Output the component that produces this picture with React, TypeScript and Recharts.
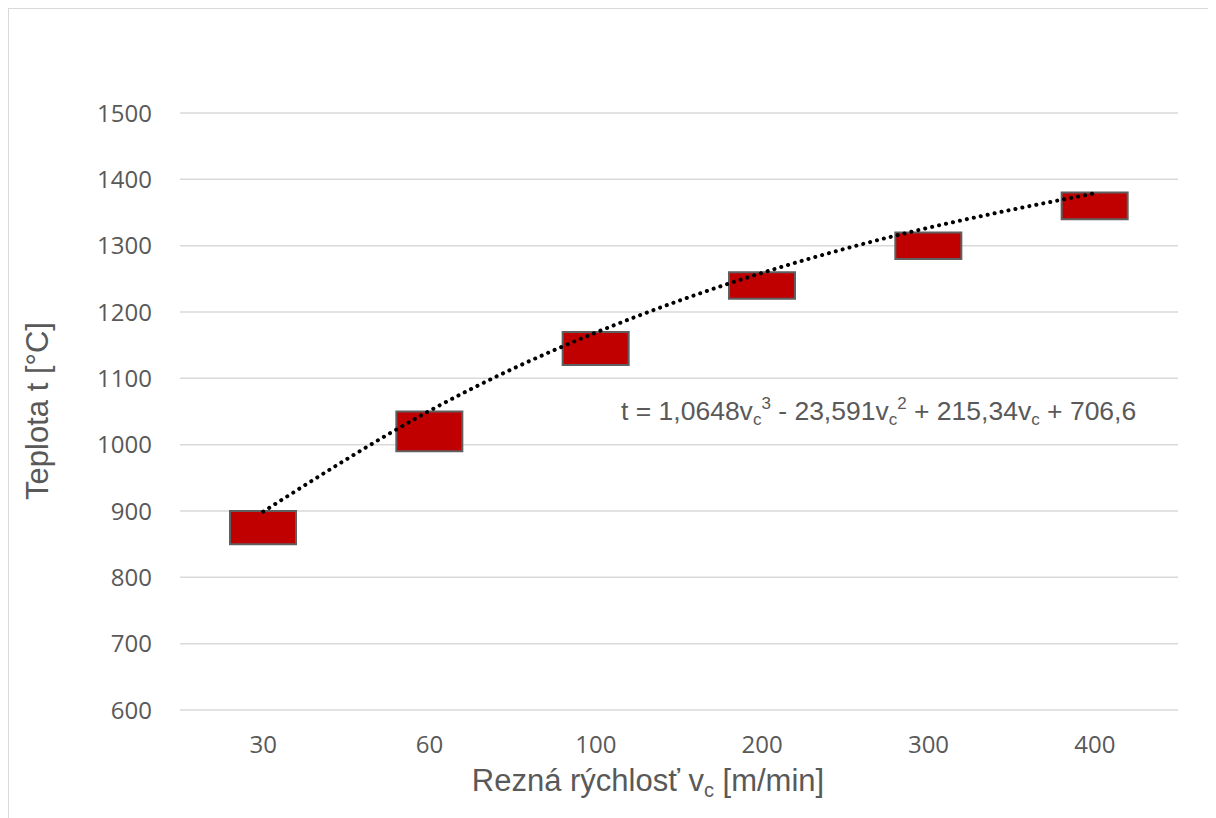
import React from "react";
import {
  ComposedChart, Bar, Line, XAxis, YAxis, CartesianGrid, Customized,
} from "recharts";

const categories = ["30", "60", "100", "200", "300", "400"];
const lowValues = [850, 990, 1120, 1220, 1280, 1340];
const highValues = [900, 1050, 1170, 1260, 1320, 1380];
const trendValues = [899, 1051, 1169, 1259, 1327, 1379];
const yTicks = [600, 700, 800, 900, 1000, 1100, 1200, 1300, 1400, 1500];

const data = categories.map((c, i) => ({
  vc: c,
  range: [lowValues[i], highValues[i]],
  trend: trendValues[i],
}));

const textGray = "#595959";
const titleFont = "'Liberation Sans', Arial, sans-serif";
const tickFont = "'Open Sans', 'Noto Sans', sans-serif";

function Texts() {
  return (
    <g fill={textGray} fontFamily={titleFont}>
      <text x={28} y={402} fontSize={31} textAnchor="middle" dominantBaseline="central"
        transform="rotate(-90, 28, 402)">
        Teplota t [°C]
      </text>
      <text x={639} y={782} fontSize={31} textAnchor="middle">
        Rezná rýchlosť v<tspan fontSize={20} dy={6}>c</tspan>
        <tspan dy={-6}> [m/min]</tspan>
      </text>
      <text x={612} y={411} fontSize={26.5}>
        t = 1,0648v<tspan fontSize={17} dy={5}>c</tspan>
        <tspan fontSize={17} dy={-16}>3</tspan>
        <tspan dy={11}> - 23,591v</tspan>
        <tspan fontSize={17} dy={5}>c</tspan>
        <tspan fontSize={17} dy={-16}>2</tspan>
        <tspan dy={11}> + 215,34v</tspan>
        <tspan fontSize={17} dy={5}>c</tspan>
        <tspan dy={-5}> + 706,6</tspan>
      </text>
    </g>
  );
}

export default function App() {
  return (
    <div style={{
      width: 1208, height: 810, boxSizing: "border-box",
      borderLeft: "1px solid #d9d9d9", borderTop: "1px solid #d9d9d9",
      background: "#fff",
    }}>
      <ComposedChart width={1207} height={809} data={data}
        margin={{ top: 104, right: 38, left: 0, bottom: 0 }}>
        <CartesianGrid vertical={false} stroke="#d9d9d9" strokeWidth={1.5} />
        <XAxis dataKey="vc" height={108} axisLine={false} tickLine={false} tickSize={0}
          tickMargin={26} tick={{ fill: textGray, fontSize: 24, fontFamily: tickFont }} />
        <YAxis type="number" domain={[600, 1500]} ticks={yTicks} width={171}
          axisLine={false} tickLine={false} tickSize={0} tickMargin={28}
          tick={{ fill: textGray, fontSize: 24, fontFamily: tickFont }} />
        <Bar dataKey="range" barSize={66} fill="#c00000" stroke="#5f5f5f" strokeWidth={2}
          isAnimationActive={false} />
        <Line dataKey="trend" type="natural" stroke="#000" strokeWidth={4}
          strokeDasharray="0.1 7" strokeLinecap="round" dot={false}
          isAnimationActive={false} />
        <Customized component={Texts} />
      </ComposedChart>
    </div>
  );
}
